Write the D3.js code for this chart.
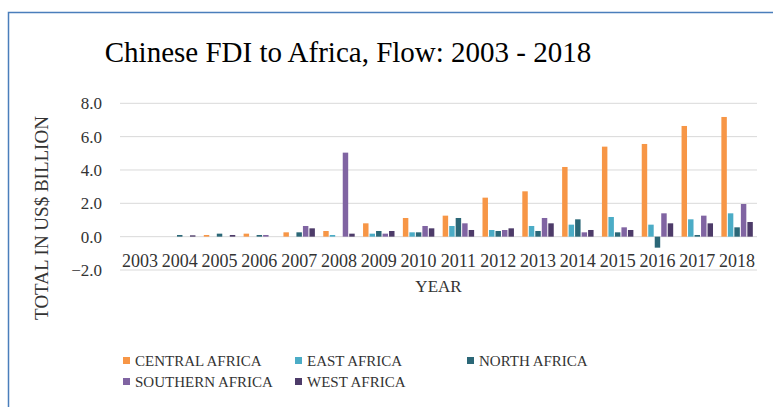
<!DOCTYPE html>
<html>
<head>
<meta charset="utf-8">
<script src="https://cdn.jsdelivr.net/npm/d3@7"></script>
<style>
  body { margin: 0; background: #fff; }
  svg text { font-family: "Liberation Serif", "DejaVu Serif", serif; }
</style>
</head>
<body>
<div id="chartDiv"></div>
<script>
const years = ["2003","2004","2005","2006","2007","2008","2009","2010",
               "2011","2012","2013","2014","2015","2016","2017","2018"];
const seriesNames = ["CENTRAL AFRICA","EAST AFRICA","NORTH AFRICA","SOUTHERN AFRICA","WEST AFRICA"];
const central  = [0, 0,    0.1,  0.18, 0.26, 0.34, 0.8,  1.12, 1.26, 2.34, 2.72, 4.18, 5.4,  5.56, 6.64, 7.18];
const east     = [0, 0,    0,    0,    0,    0.1,  0.18, 0.26, 0.64, 0.4,  0.64, 0.72, 1.18, 0.72, 1.04, 1.4];
const north    = [0, 0.1,  0.18, 0.1,  0.26, 0,    0.34, 0.26, 1.12, 0.34, 0.34, 1.04, 0.26, -0.66, 0.1, 0.56];
const southern = [0, 0,    0,    0.1,  0.64, 5.04, 0.18, 0.64, 0.8,  0.4,  1.12, 0.26, 0.56, 1.4,  1.26, 1.96];
const west     = [0, 0.08, 0.1,  0,    0.5,  0.18, 0.34, 0.5,  0.4,  0.5,  0.8,  0.4,  0.4,  0.8,  0.8,  0.88];
const yTicks = [-2, 0, 2, 4, 6, 8];
const colors = ["#f79646", "#4bacc6", "#2b6777", "#8064a2", "#4d3b69"];

const allSeries = [central, east, north, southern, west];

const width = 773, height = 407;
const plot = {left: 120, right: 757, top: 103.3, bottom: 270};

const svg = d3.select("#chartDiv").append("svg")
    .attr("width", width)
    .attr("height", height);

// 枠線
svg.append("path")
    .attr("d", `M8.5,${height} V12.5 H${width}`)
    .attr("fill", "none")
    .attr("stroke", "#4a7ebb")
    .attr("stroke-width", 1.5);

svg.append("text")
    .attr("x", 348).attr("y", 62)
    .attr("text-anchor", "middle")
    .attr("font-size", 29)
    .attr("fill", "#000")
    .text("Chinese FDI to Africa, Flow: 2003 - 2018");

const y = d3.scaleLinear().domain([-2, 8]).range([plot.bottom, plot.top]);
const x0 = d3.scaleBand().domain(years).range([plot.left, plot.right]);
const groupW = x0.bandwidth() * 0.79;
const x1 = d3.scaleBand().domain(seriesNames).range([0, groupW]).paddingInner(0.16);

// グリッド線
svg.append("g")
  .selectAll("line")
  .data(yTicks)
  .join("line")
    .attr("x1", plot.left).attr("x2", plot.right)
    .attr("y1", d => y(d)).attr("y2", d => y(d))
    .attr("stroke", "#d9d9d9")
    .attr("stroke-width", 1);

// y軸
const yAxis = svg.append("g")
    .attr("transform", `translate(${plot.left},0)`)
    .call(d3.axisLeft(y).tickValues(yTicks).tickFormat(d3.format(".1f")).tickSize(0).tickPadding(18));
yAxis.select(".domain").remove();
yAxis.selectAll("text")
    .attr("font-family", "Liberation Serif")
    .attr("font-size", 17)
    .attr("fill", "#333");

// 棒
const offset = (x0.bandwidth() - groupW) / 2;
svg.append("g")
  .selectAll("g")
  .data(years)
  .join("g")
    .attr("transform", d => `translate(${x0(d) + offset},0)`)
  .selectAll("rect")
  .data((d, i) => seriesNames.map((s, k) => ({s, k, v: allSeries[k][i]})))
  .join("rect")
    .filter(d => d.v !== 0)
    .attr("x", d => x1(d.s))
    .attr("width", x1.bandwidth())
    .attr("y", d => y(Math.max(0, d.v)))
    .attr("height", d => Math.abs(y(d.v) - y(0)))
    .attr("fill", d => colors[d.k]);

// x軸
const xAxis = svg.append("g")
    .attr("transform", `translate(0,${y(0)})`)
    .call(d3.axisBottom(x0).tickSize(0).tickPadding(18));
xAxis.select(".domain").remove();
xAxis.selectAll("text")
    .attr("font-family", "Liberation Serif")
    .attr("font-size", 18)
    .attr("fill", "#333");

svg.append("text")
    .attr("x", (plot.left + plot.right) / 2).attr("y", 292)
    .attr("text-anchor", "middle")
    .attr("font-size", 17)
    .attr("fill", "#333")
    .text("YEAR");

svg.append("text")
    .attr("transform", "translate(48,218) rotate(-90)")
    .attr("text-anchor", "middle")
    .attr("font-size", 19)
    .attr("fill", "#333")
    .text("TOTAL IN US$ BILLION");

// 凡例
const legendPos = [[123, 361], [295, 361], [467, 361], [123, 382], [295, 382]];
const legend = svg.append("g")
  .selectAll("g")
  .data(seriesNames)
  .join("g")
    .attr("transform", (d, i) => `translate(${legendPos[i][0]},${legendPos[i][1]})`);
legend.append("rect")
    .attr("x", 0).attr("y", -4)
    .attr("width", 7).attr("height", 7)
    .attr("fill", (d, i) => colors[i]);
legend.append("text")
    .attr("x", 12).attr("y", 5)
    .attr("font-size", 15)
    .attr("fill", "#333")
    .text(d => d);
</script>
</body>
</html>
